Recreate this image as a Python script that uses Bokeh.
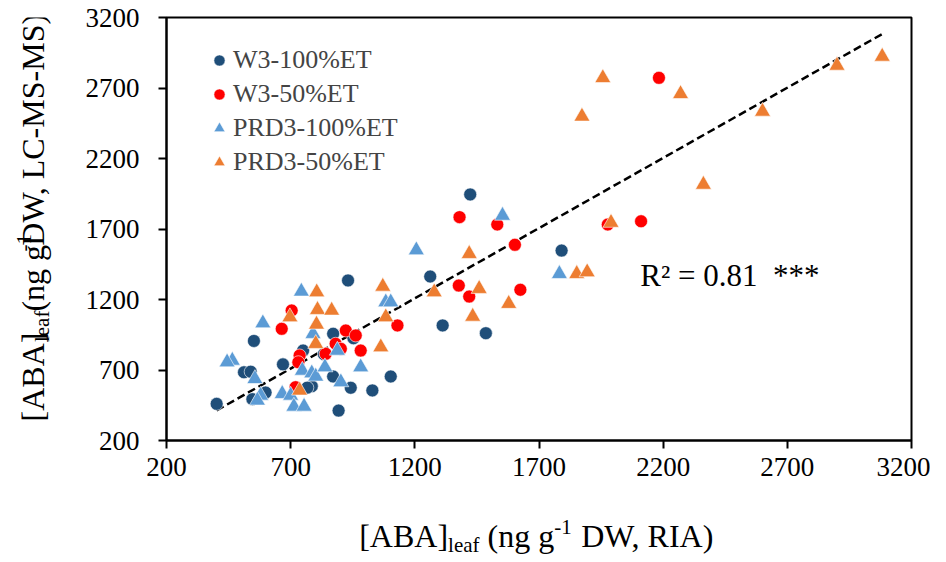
import numpy as np
from bokeh.plotting import figure
from bokeh.layouts import column, row
from bokeh.models import Label, Legend, LegendItem, FixedTicker
from bokeh.core.properties import value
from bokeh.embed import file_html
from bokeh.resources import INLINE

# ---------------- data ----------------
w3_100_x = [402, 552, 931, 1262, 1312, 1486, 512, 539, 669, 546, 599, 871, 953, 750,
            871, 785, 767, 942, 1029, 1103, 893, 1423, 1791, 834]
w3_100_y = [460, 906, 1335, 1363, 1016, 961, 684, 688, 740, 493, 540, 957, 925, 838,
            654, 585, 575, 574, 555, 654, 412, 1945, 1547, 812]

w3_50_x = [704, 664, 922, 962, 982, 1130, 736, 731, 841, 881, 902, 720,
           1380, 1532, 1603, 1377, 1419, 1625, 2183, 1977, 2111]
w3_50_y = [1122, 992, 980, 945, 838, 1016, 803, 755, 815, 886, 850, 578,
           1784, 1732, 1588, 1299, 1221, 1269, 2772, 1732, 1755]

prd_100_x = [588, 790, 1083, 1103, 465, 444, 556, 579, 566, 666, 700, 713, 754, 747,
             785, 801, 838, 902, 888, 982, 743, 1206, 1553, 1782]
prd_100_y = [1032, 957, 1181, 1181, 767, 755, 637, 519, 484, 531, 519, 441, 441, 696,
             677, 654, 720, 614, 838, 720, 1257, 1550, 1795, 1382]

prd_50_x = [808, 865, 697, 804, 801, 1063, 1083, 736, 805, 1419, 1278, 1459, 1433, 1578,
            1071, 1852, 1894, 1990, 1957, 1873, 2270, 2600, 2900, 3082, 2362]
prd_50_y = [1127, 1122, 1075, 1023, 886, 862, 1075, 555, 1252, 1524, 1252, 1276, 1079, 1170,
            1292, 1382, 1394, 1745, 2771, 2498, 2658, 2533, 2859, 2923, 2015]

series_names = ["W3-100%ET", "W3-50%ET", "PRD3-100%ET", "PRD3-50%ET"]
series_colors = ["#1F4E79", "#FF0000", "#5B9BD5", "#ED7D31"]
series_markers = ["circle", "circle", "triangle", "triangle"]

axis_ticks = [200, 700, 1200, 1700, 2200, 2700, 3200]

trend_slope = 0.996
trend_intercept = 13
r2_text = "R\u00b2 = 0.81\u00a0 ***"

x_title_tail = "DW, RIA)"
y_title_tail = "DW, LC-MS-MS)"

# ---------------- layout geometry ----------------
TOTAL_W, TOTAL_H = 930, 558
YT_W = 60          # width of the y-title strip
P_H = 502
XT_H = TOTAL_H - P_H   # height of the x-title strip
P_W = TOTAL_W - YT_W
BL, BR, BT = 166 - YT_W, 19, 17
FRAME_H = 423
BB = P_H - BT - FRAME_H
FONT = "Liberation Serif"

p = figure(width=P_W, height=P_H, x_range=(200, 3200), y_range=(200, 3200),
           output_backend="svg", toolbar_location=None,
           min_border_left=BL, min_border_right=BR, min_border_top=BT, min_border_bottom=BB)
p.background_fill_color = "white"
p.border_fill_color = "white"
p.outline_line_color = "black"
p.outline_line_width = 2
p.xgrid.visible = False
p.ygrid.visible = False

for ax in (p.xaxis[0], p.yaxis[0]):
    ax.ticker = FixedTicker(ticks=axis_ticks)
    ax.axis_line_width = 2
    ax.axis_line_color = "black"
    ax.major_tick_line_width = 2
    ax.major_tick_line_color = "black"
    ax.major_tick_out = 8
    ax.major_tick_in = 0
    ax.minor_tick_line_color = None
    ax.major_label_text_font = FONT
    ax.major_label_text_font_size = "27px"
    ax.major_label_text_color = "black"
p.xaxis[0].major_label_standoff = 9
p.yaxis[0].major_label_standoff = 19

# trend line from data extent
all_x = np.array(w3_100_x + w3_50_x + prd_100_x + prd_50_x, dtype=float)
tx = np.array([all_x.min(), all_x.max()])
ty = trend_slope * tx + trend_intercept
p.line(tx, ty, line_color="black", line_width=2.5, line_dash="8 4")

renderers = []
for xs, ys, col, mk in zip([w3_100_x, w3_50_x, prd_100_x, prd_50_x],
                           [w3_100_y, w3_50_y, prd_100_y, prd_50_y],
                           series_colors, series_markers):
    size = 13 if mk == "circle" else 16
    r = p.scatter(xs, ys, marker=mk, size=size, fill_color=col, line_color="white",
                  line_width=0.6)
    renderers.append(r)

legend = Legend(items=[LegendItem(label=n, renderers=[r]) for n, r in zip(series_names, renderers)],
                location=(39, 263), label_text_font=FONT, label_text_font_size="26px",
                glyph_width=28, glyph_height=30, label_height=30, label_standoff=0,
                spacing=4, padding=0, margin=0,
                border_line_color=None, background_fill_alpha=0)
p.add_layout(legend, "center")

# R^2 annotation
p.add_layout(Label(x=2108, y=1370, text=r2_text, text_font=FONT, text_font_size="31px",
                   text_baseline="alphabetic", text_align="left", text_color="black"))

# ---------------- axis titles with sub/superscripts ----------------
ADV = {' ': 250, '(': 333, ')': 333, '[': 333, ']': 333, ',': 250, '-': 333, '1': 500,
       'A': 722, 'B': 667, 'D': 722, 'W': 944, 'R': 667, 'I': 333, 'n': 500, 'g': 500,
       'l': 278, 'e': 444, 'a': 444, 'f': 333, 'L': 611, 'C': 667, 'M': 889, 'S': 556}


def tw(s, size):
    return sum(ADV.get(c, 500) for c in s) * size / 1000.0


F_MAIN, F_SMALL = 32, 21
SUB_DROP, SUP_RISE = 6, 12
MID = 0.30   # distance of text "middle" above the baseline, in em


def title_parts(tail):
    # (text, size, baseline shift (+ up), leading gap)
    return [("[ABA]", F_MAIN, 0, 0),
            ("leaf", F_SMALL, -SUB_DROP, 0),
            ("(ng g", F_MAIN, 0, tw(" ", F_MAIN)),
            ("-1", F_SMALL, SUP_RISE, 0),
            (tail, F_MAIN, 0, tw(" ", F_MAIN))]


def strip_fig(w, h):
    f = figure(width=w, height=h, x_range=(0, w), y_range=(0, h), output_backend="svg",
               toolbar_location=None, x_axis_location=None, y_axis_location=None,
               min_border=0, title=None)
    f.outline_line_color = None
    f.background_fill_color = "white"
    f.border_fill_color = "white"
    f.xgrid.visible = False
    f.ygrid.visible = False
    return f


def draw_title(fig, parts, center, base, vertical):
    total = sum(tw(t, s) + g for t, s, _, g in parts)
    pos = center - total / 2.0
    for t, s, shift, g in parts:
        pos += g
        w = tw(t, s)
        mid = base + shift + MID * s       # centre line of the piece, "up" direction
        if vertical:
            # reading bottom-to-top: "up" of the text points to -x
            fig.text(x=[2 * base - mid], y=[pos + w / 2.0], text=[t], angle=np.pi / 2,
                     text_font=value(FONT), text_font_size=value(f"{s}px"),
                     text_baseline="middle", text_align="center", text_color="black")
        else:
            fig.text(x=[pos + w / 2.0], y=[mid], text=[t],
                     text_font=value(FONT), text_font_size=value(f"{s}px"),
                     text_baseline="middle", text_align="center", text_color="black")
        pos += w


yt = strip_fig(YT_W, P_H)
draw_title(yt, title_parts(y_title_tail), center=P_H - 243.5, base=42, vertical=True)

xt = strip_fig(TOTAL_W, XT_H)
draw_title(xt, title_parts(x_title_tail), center=536.5, base=XT_H - 43, vertical=False)

layout = column(row(yt, p, spacing=0), xt, spacing=0)

open("out.html", "w").write(file_html(layout, INLINE))
